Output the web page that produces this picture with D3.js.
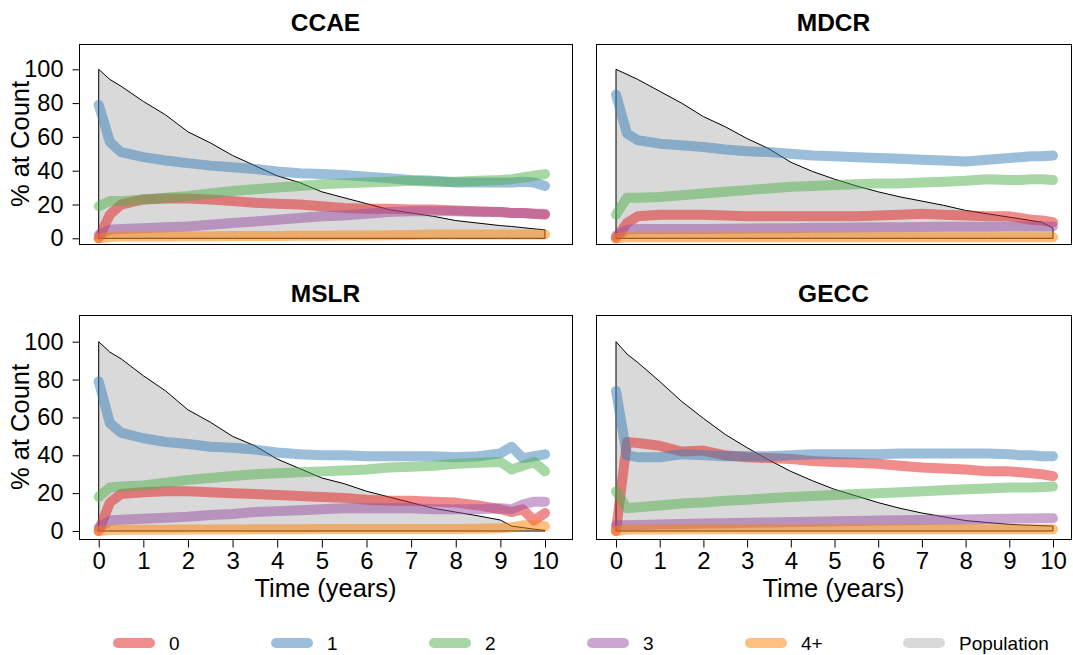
<!DOCTYPE html>
<html>
<head>
<meta charset="utf-8">
<script src="https://cdn.jsdelivr.net/npm/d3@7"></script>
<style>
  html, body { margin: 0; padding: 0; background: #fff; }
  svg { display: block; }
  text { font-family: "Liberation Sans", Arial, Helvetica, sans-serif; fill: #000; }
</style>
</head>
<body>
<svg id="chart" width="1073" height="655"></svg>
<script>
// Follow-up time (years) shared by every series
const times = [0, 0.25, 0.5, 1, 1.5, 2, 2.5, 3, 3.5, 4, 4.5, 5, 5.5, 6, 6.5, 7, 7.5, 8, 8.5, 9, 9.25, 9.5, 9.75, 10];

// Series names and colours
const countLabels = ["0", "1", "2", "3", "4+"];
const countColors = ["#e41a1c", "#377eb8", "#4daf4a", "#984ea3", "#ff7f00"];
const populationLabel = "Population";

const xTicks = [0, 1, 2, 3, 4, 5, 6, 7, 8, 9, 10];
const yTicks = [0, 20, 40, 60, 80, 100];

// CCAE
const ccaePopulation = [100, 94, 90, 81, 73, 63, 56.5, 49, 43, 37, 33, 27.5, 24, 20.5, 17, 15, 13, 10.5, 9, 7.5, 7, 6.3, 5.6, 5];
const ccaeCount0 = [0, 14, 20, 23, 23.5, 23.5, 23, 22, 21, 20.5, 20, 19, 18, 17.5, 17.5, 17, 17, 16.5, 16, 15.5, 15, 15, 14.5, 14];
const ccaeCount1 = [79, 57, 51, 48, 46, 44.5, 43, 42, 41, 39.5, 38.5, 38, 37.5, 36.5, 35.5, 34.5, 34, 33, 33, 33, 33, 33.5, 33, 31];
const ccaeCount2 = [19, 22, 22, 23, 24, 25, 26.5, 28, 29, 30, 31, 32, 32.5, 33, 33.5, 34, 33.5, 33.5, 34, 34.5, 35, 36, 37, 38];
const ccaeCount3 = [2, 5, 5.5, 6, 6.5, 7, 8, 9, 10, 11, 12, 13, 13.5, 14.5, 15.5, 16, 16, 16, 15.5, 15.5, 15, 15, 14.5, 14.5];
const ccaeCount4 = [0, 0.8, 1, 1, 1, 1.2, 1.2, 1.3, 1.3, 1.4, 1.5, 1.5, 1.6, 1.7, 1.8, 2, 2.2, 2.3, 2.3, 2.3, 2.3, 2.3, 2.2, 2.2];

// MDCR
const mdcrPopulation = [100, 97, 94, 87, 80, 72, 66, 59, 53, 45, 39.5, 35, 31, 27.5, 24.5, 22, 19.5, 16.5, 14.5, 12.5, 11.5, 10.5, 9.5, 6];
const mdcrCount0 = [0, 9, 13, 14, 14, 14, 13.5, 13, 13, 13, 13, 13, 13, 13.5, 14, 14.5, 14, 13.5, 13, 13, 12, 11, 10.5, 9.5];
const mdcrCount1 = [85, 62, 58, 56, 55, 54, 52.5, 51.5, 51, 50, 49, 48.5, 48, 47.5, 47, 46.5, 46, 45.5, 46.5, 47.5, 48, 48.5, 48.5, 49];
const mdcrCount2 = [14, 24, 24, 24.5, 25.5, 26.5, 27.5, 28.5, 29.5, 30.5, 31, 31.5, 32, 32.5, 32.5, 33, 33.5, 34, 35, 34.5, 34.5, 35, 35, 34.5];
const mdcrCount3 = [1.5, 5, 5.5, 5.5, 5.5, 5.5, 5.7, 5.8, 6, 6, 6.2, 6.3, 6.4, 6.5, 6.6, 6.7, 6.8, 6.9, 6.9, 7, 7, 7, 7, 7];
const mdcrCount4 = [0, 0.6, 0.6, 0.6, 0.6, 0.6, 0.6, 0.6, 0.6, 0.6, 0.6, 0.6, 0.6, 0.6, 0.6, 0.6, 0.6, 0.6, 0.6, 0.6, 0.6, 0.6, 0.6, 0.6];

// MSLR
const mslrPopulation = [100, 94.5, 91, 82, 74, 64, 57.5, 50, 45, 38, 33, 28, 25, 21, 18, 15, 12, 10, 8, 5.8, 2.6, 1.8, 1, 0.3];
const mslrCount0 = [0, 15, 19.5, 20.5, 21, 21, 20.5, 20, 19.5, 19, 18.5, 18, 17.5, 16.5, 16, 16, 15.5, 15, 13.5, 11.5, 10, 11.5, 5.5, 9.5];
const mslrCount1 = [79, 57, 52, 49, 47, 46, 44.5, 44, 43, 41.5, 40.5, 40, 40, 39.5, 39.5, 39.5, 39.5, 39, 39.5, 41, 44.5, 38.5, 39.5, 40.5];
const mslrCount2 = [18, 23, 23.5, 24, 25.5, 27, 28, 29, 30, 30.5, 31, 31.5, 32, 32.5, 33.5, 34, 34.5, 35.5, 36, 36.5, 32.5, 34.5, 36.5, 31.5];
const mslrCount3 = [2, 5.5, 6, 6.5, 7, 7.5, 8.5, 9, 10, 10.5, 11, 11.5, 12, 12, 12, 12, 11.5, 11.5, 11.5, 12, 11.5, 14, 15.5, 15.5];
const mslrCount4 = [0, 0.5, 0.6, 0.7, 0.7, 0.8, 0.8, 0.8, 0.9, 0.9, 0.9, 1, 1, 1, 1, 1, 1.1, 1.1, 1.2, 1.5, 2, 3, 3, 2.5];

// GECC
const geccPopulation = [100, 93.5, 89, 79, 68.5, 59.5, 51, 44, 37.5, 31.5, 26.5, 22, 18.5, 15, 12, 9.5, 7.5, 5.5, 4.5, 3.5, 3.2, 3, 2.8, 2.6];
const geccCount0 = [0, 47, 46.5, 45, 42, 42.5, 40, 39, 38.5, 38, 37, 36.5, 36, 35.5, 34.5, 33.5, 33, 32.5, 31.5, 31.5, 31, 30.5, 30, 29];
const geccCount1 = [74, 40, 39, 39, 40.5, 40, 39.5, 39.5, 39.5, 40, 40.5, 40.5, 40.5, 40.5, 41, 41, 41, 41, 41, 40.5, 40, 40, 39.5, 39.5];
const geccCount2 = [21, 12, 12.5, 13.5, 14.5, 15, 16, 16.5, 17.3, 18, 18.5, 19, 19.5, 20, 20.5, 21, 21.5, 22, 22.5, 23, 23, 23, 23.3, 23.5];
const geccCount3 = [3, 3, 3.2, 3.5, 3.7, 3.9, 4.1, 4.3, 4.5, 4.7, 4.9, 5.1, 5.3, 5.5, 5.7, 5.8, 6, 6.1, 6.3, 6.5, 6.6, 6.6, 6.7, 6.7];
const geccCount4 = [0, 0.8, 0.8, 0.8, 0.9, 0.9, 0.9, 0.9, 0.9, 0.9, 0.9, 0.9, 0.9, 0.9, 0.9, 0.9, 0.9, 0.9, 0.9, 0.9, 0.9, 0.9, 0.9, 0.9];

const panelNames = ["CCAE", "MDCR", "MSLR", "GECC"];
const panelPopulation = [ccaePopulation, mdcrPopulation, mslrPopulation, geccPopulation];
const panelCounts = [
  [ccaeCount0, ccaeCount1, ccaeCount2, ccaeCount3, ccaeCount4],
  [mdcrCount0, mdcrCount1, mdcrCount2, mdcrCount3, mdcrCount4],
  [mslrCount0, mslrCount1, mslrCount2, mslrCount3, mslrCount4],
  [geccCount0, geccCount1, geccCount2, geccCount3, geccCount4]
];

// ---- layout (pixels) ----
const FONT = '"Liberation Sans", Arial, Helvetica, sans-serif';
const cols = [
  { boxL: 79, boxR: 572, x0: 98.7, x10: 545 },
  { boxL: 596, boxR: 1071, x0: 616, x10: 1053 }
];
const rows = [
  { boxT: 44, boxB: 244, y0: 238.3, y100: 69.3, titleY: 31 },
  { boxT: 315, boxB: 539, y0: 531, y100: 341.7, titleY: 302 }
];

const svg = d3.select("#chart");
svg.append("rect").attr("width", 1073).attr("height", 655).attr("fill", "#fff");

panelNames.forEach((name, i) => {
  const c = cols[i % 2], r = rows[Math.floor(i / 2)];
  const x = d3.scaleLinear().domain([0, 10]).range([c.x0, c.x10]);
  const y = d3.scaleLinear().domain([0, 100]).range([r.y0, r.y100]);
  const g = svg.append("g");

  // clip to the plotting box
  const clipId = "clip" + i;
  svg.append("clipPath").attr("id", clipId)
    .append("rect").attr("x", c.boxL).attr("y", r.boxT)
    .attr("width", c.boxR - c.boxL).attr("height", r.boxB - r.boxT);
  const plot = g.append("g").attr("clip-path", `url(#${clipId})`);

  // population at risk, drawn as a filled polygon
  const pop = times.map((t, k) => ({ t, v: panelPopulation[i][k] }));
  plot.append("path")
    .datum(pop)
    .attr("d", d3.area().x(d => x(d.t)).y0(y(0)).y1(d => y(d.v)))
    .attr("fill", "#d9d9d9")
    .attr("stroke", "#000")
    .attr("stroke-width", 1)
    .attr("stroke-linejoin", "miter");

  // share of patients at each count
  const line = d3.line().x(d => x(d.t)).y(d => y(d.v));
  panelCounts[i].forEach((series, s) => {
    plot.append("path")
      .datum(times.map((t, k) => ({ t, v: series[k] })))
      .attr("d", line)
      .attr("fill", "none")
      .attr("stroke", countColors[s])
      .attr("stroke-opacity", 0.5)
      .attr("stroke-width", 10)
      .attr("stroke-linecap", "round")
      .attr("stroke-linejoin", "round");
  });

  // frame
  g.append("rect")
    .attr("x", c.boxL + 0.5).attr("y", r.boxT + 0.5)
    .attr("width", c.boxR - c.boxL).attr("height", r.boxB - r.boxT)
    .attr("fill", "none").attr("stroke", "#000").attr("stroke-width", 1);

  // panel title
  g.append("text")
    .attr("x", (c.boxL + c.boxR) / 2).attr("y", r.titleY)
    .attr("text-anchor", "middle")
    .style("font-size", "24.5px").style("font-weight", "bold")
    .text(name);

  // y axis on the left column
  if (i % 2 === 0) {
    const ya = g.append("g")
      .attr("transform", `translate(${c.boxL + 0.5},0)`)
      .call(d3.axisLeft(y).tickValues(yTicks).tickSize(7).tickPadding(9).tickSizeOuter(0));
    ya.select(".domain").remove();
    ya.selectAll("line").attr("stroke", "#000");
    ya.selectAll("text").style("font-family", FONT).style("font-size", "23.5px").attr("fill", "#000");
    g.append("text")
      .attr("transform", `translate(29,${(r.boxT + r.boxB) / 2}) rotate(-90)`)
      .attr("text-anchor", "middle")
      .style("font-size", "25.5px")
      .text("% at Count");
  }

  // x axis on the bottom row
  if (i >= 2) {
    const xa = g.append("g")
      .attr("transform", `translate(0,${r.boxB + 0.5})`)
      .call(d3.axisBottom(x).tickValues(xTicks).tickSize(8).tickPadding(4).tickSizeOuter(0));
    xa.select(".domain").remove();
    xa.selectAll("line").attr("stroke", "#000");
    xa.selectAll("text").style("font-family", FONT).style("font-size", "24px").attr("fill", "#000");
    g.append("text")
      .attr("x", (c.boxL + c.boxR) / 2).attr("y", 597)
      .attr("text-anchor", "middle")
      .style("font-size", "25.5px")
      .text("Time (years)");
  }
});

// legend along the bottom
const legendItems = countLabels.map((lab, s) => ({ lab, color: countColors[s], opacity: 0.5 }))
  .concat([{ lab: populationLabel, color: "#d9d9d9", opacity: 1 }]);
const legend = svg.append("g");
legendItems.forEach((it, k) => {
  const lx = 118 + k * 158;
  legend.append("line")
    .attr("x1", lx).attr("x2", lx + 32).attr("y1", 643).attr("y2", 643)
    .attr("stroke", it.color).attr("stroke-opacity", it.opacity)
    .attr("stroke-width", 10).attr("stroke-linecap", "round");
  legend.append("text")
    .attr("x", lx + 51).attr("y", 643).attr("dy", "0.35em")
    .style("font-size", "19px")
    .text(it.lab);
});
</script>
</body>
</html>
